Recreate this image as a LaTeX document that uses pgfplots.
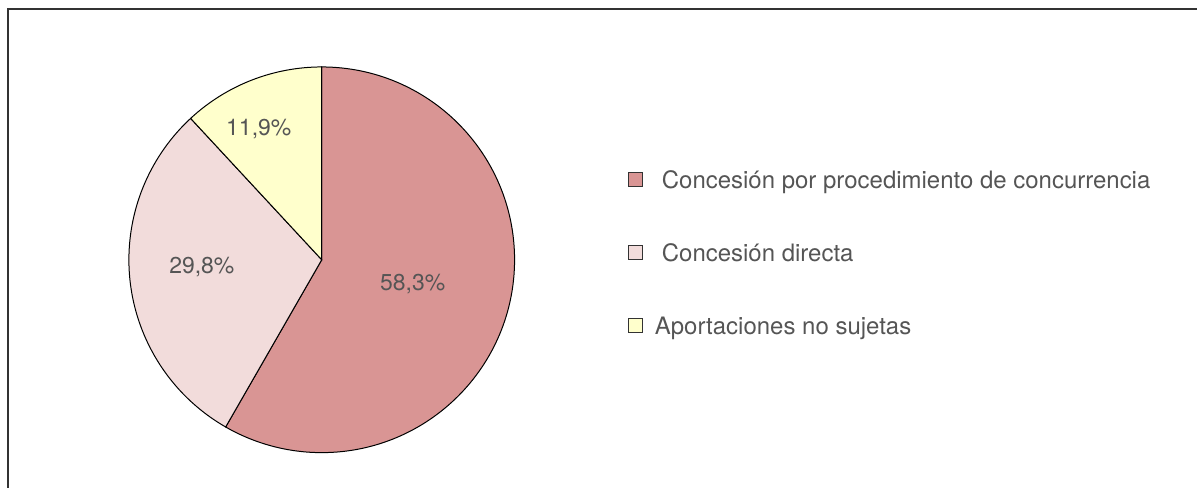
\documentclass[border=0pt]{standalone}
\usepackage{fontspec}
\setmainfont{TeX Gyre Heros}
\usepackage{pgfplots}
\usepackage{pgfplotstable}
\pgfplotsset{compat=1.18}

\definecolor{slice0}{HTML}{D99594}
\definecolor{slice1}{HTML}{F2DCDB}
\definecolor{slice2}{HTML}{FFFFCC}
\definecolor{txtgray}{HTML}{555555}
\definecolor{boxgray}{HTML}{333333}

% share (%), label position (px, y from bottom)
\pgfplotstableread{
share lx  ly
58.3  413 204
29.8  202 221
11.9  259 359
}\piedata

% start/end angles, clockwise from 12 o'clock
\def\curang{90}
\pgfplotsforeachungrouped \i in {0,1,2}{%
  \pgfplotstablegetelem{\i}{share}\of\piedata
  \pgfmathsetmacro\newang{\curang-3.6*\pgfplotsretval}%
  \expandafter\xdef\csname sa\i\endcsname{\curang}%
  \expandafter\xdef\csname ea\i\endcsname{\newang}%
  \xdef\curang{\newang}%
}

\begin{document}
\begin{tikzpicture}
\begin{axis}[
  width=599pt, height=244pt, scale only axis,
  xmin=0, xmax=1198, ymin=0, ymax=488,
  hide axis, clip=false,
]
\path (axis cs:0,0) rectangle (axis cs:1198,488);
\draw[line width=1pt, black!80] (axis cs:8,0) -- (axis cs:8,479) -- (axis cs:1198,479);

\pgfplotsinvokeforeach{0,1,2}{
  \edef\temp{\noexpand\filldraw[fill=slice#1, draw=black, line width=0.5pt]
    (axis cs:322,228) -- ++(\csname sa#1\endcsname:96.5pt)
    arc[start angle=\csname sa#1\endcsname, end angle=\csname ea#1\endcsname, radius=96.5pt] -- cycle;}
  \temp
}

\addplot[draw=none, mark=none,
  point meta=\thisrow{share},
  nodes near coords={\pgfmathprintnumber[fixed,precision=1,fixed zerofill,use comma,assume math mode=true]{\pgfplotspointmeta}\%},
  every node near coord/.style={anchor=center, text=txtgray, font=\fontsize{11.5}{13}\selectfont},
] table[x=lx, y=ly] {\piedata};

% legend
\filldraw[fill=slice0, draw=boxgray, line width=0.6pt] (axis cs:629,301) rectangle (axis cs:643,315);
\filldraw[fill=slice1, draw=boxgray, line width=0.6pt] (axis cs:629,228) rectangle (axis cs:643,242);
\filldraw[fill=slice2, draw=boxgray, line width=0.6pt] (axis cs:629,155) rectangle (axis cs:643,169);
\node[anchor=base west, inner sep=0pt, text=txtgray, font=\fontsize{12}{14}\selectfont] at (axis cs:662,299) {Concesión por procedimiento de concurrencia};
\node[anchor=base west, inner sep=0pt, text=txtgray, font=\fontsize{12}{14}\selectfont] at (axis cs:662,226) {Concesión directa};
\node[anchor=base west, inner sep=0pt, text=txtgray, font=\fontsize{12}{14}\selectfont] at (axis cs:655,153) {Aportaciones no sujetas};
\end{axis}
\end{tikzpicture}
\end{document}
